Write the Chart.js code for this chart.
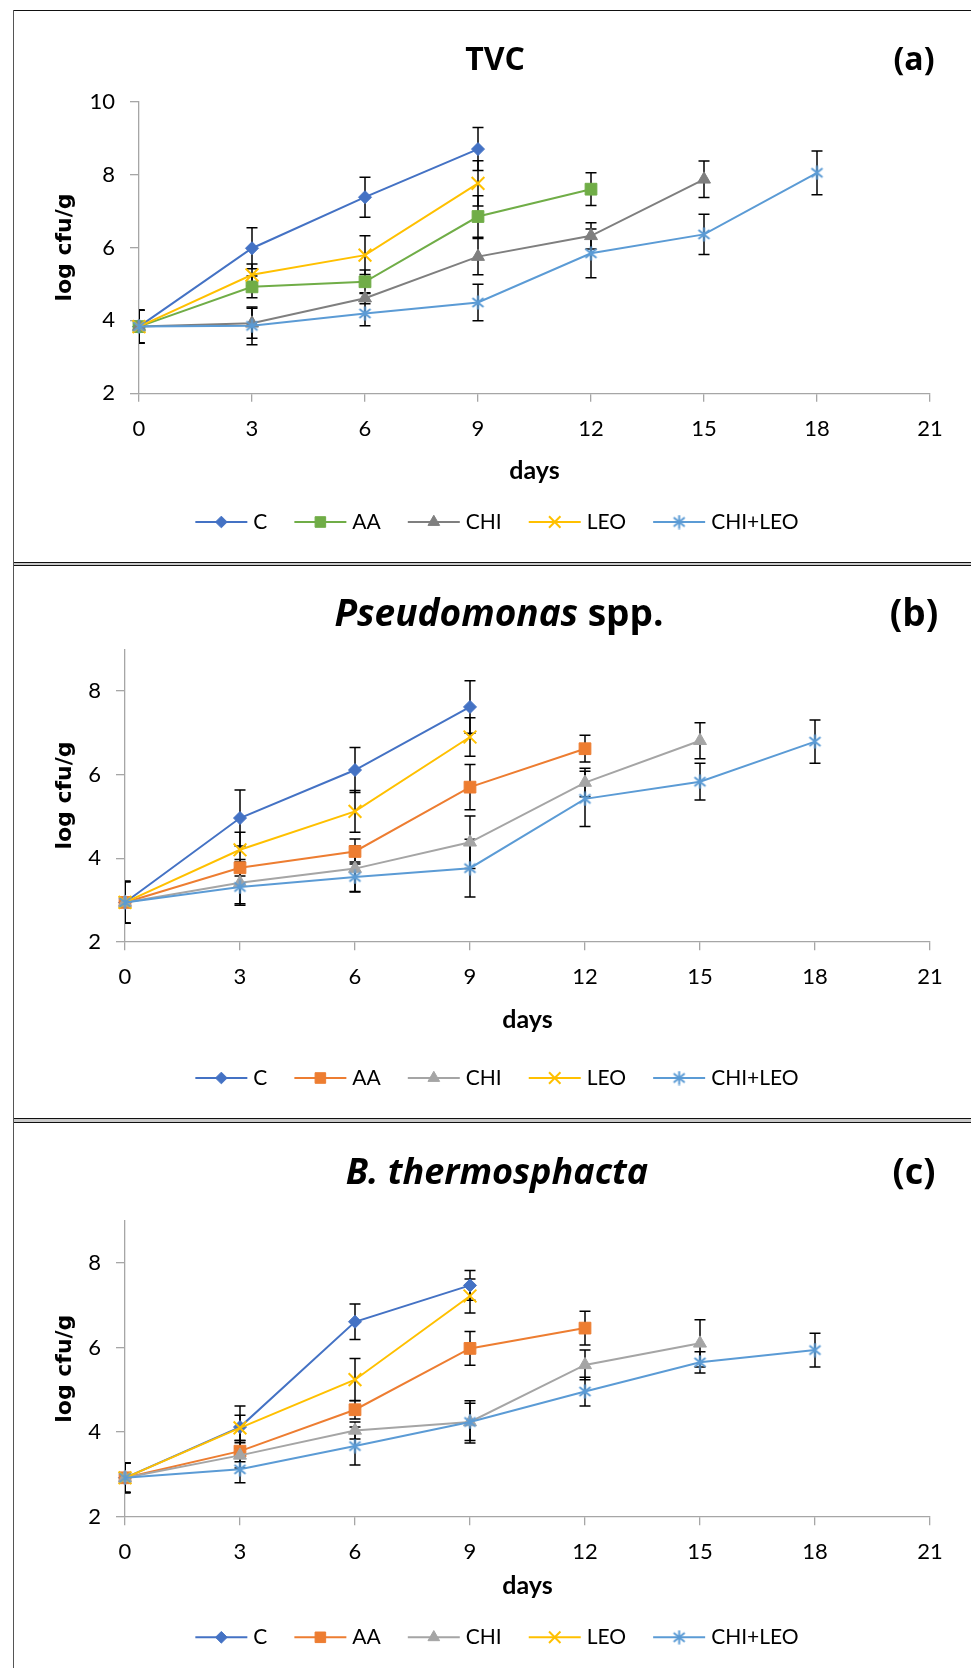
<!DOCTYPE html>
<html>
<head>
<meta charset="utf-8">
<title>TVC, Pseudomonas spp., B. thermosphacta</title>
<script src="https://cdn.jsdelivr.net/npm/chart.js@4.4.1/dist/chart.umd.min.js"></script>
<style>
  html, body { margin: 0; padding: 0; background: #fff; }
  body { position: relative; width: 971px; height: 1668px; overflow: hidden; }
  canvas { position: absolute; left: 15px; }
  .hl { position: absolute; left: 13px; width: 958px; height: 1px; background: #111; }
  .band { position: absolute; left: 13px; width: 958px; background: #c9c9c9; }
  .vl { position: absolute; left: 13px; top: 10px; bottom: 0; width: 1px; background: #555; }
</style>
</head>
<body>
<div class="hl" style="top:10px"></div>
<div class="hl" style="top:562px"></div>
<div class="band" style="top:563px;height:2px"></div>
<div class="hl" style="top:565px"></div>
<div class="hl" style="top:1118px"></div>
<div class="band" style="top:1119px;height:3px"></div>
<div class="hl" style="top:1122px"></div>
<div class="vl"></div>

<canvas id="chartA" width="956" height="548" style="top:12px"></canvas>
<canvas id="chartB" width="956" height="549" style="top:567px"></canvas>
<canvas id="chartC" width="956" height="544" style="top:1124px"></canvas>

<script>
// storage days (x) and series names
const days = [0, 3, 6, 9, 12, 15, 18];
const seriesNames = ['C', 'AA', 'CHI', 'LEO', 'CHI+LEO'];

// (a) TVC, log cfu/g
const tvcC      = [3.83, 5.98, 7.38, 8.70];
const tvcAA     = [3.83, 4.92, 5.06, 6.85, 7.60];
const tvcCHI    = [3.83, 3.92, 4.61, 5.75, 6.32, 7.87];
const tvcLEO    = [3.83, 5.25, 5.79, 7.76];
const tvcCHILEO = [3.83, 3.85, 4.19, 4.49, 5.84, 6.36, 8.05];
// standard deviations
const tvcErrC      = [0.45, 0.56, 0.55, 0.59];
const tvcErrAA     = [0.45, 0.30, 0.32, 0.57, 0.45];
const tvcErrCHI    = [0.45, 0.41, 0.15, 0.50, 0.36, 0.50];
const tvcErrLEO    = [0.45, 0.30, 0.53, 0.62];
const tvcErrCHILEO = [0.45, 0.52, 0.34, 0.50, 0.67, 0.55, 0.60];

// (b) Pseudomonas spp.
const psC      = [2.94, 4.96, 6.11, 7.62];
const psAA     = [2.94, 3.77, 4.16, 5.70, 6.62];
const psCHI    = [2.94, 3.41, 3.75, 4.38, 5.81, 6.81];
const psLEO    = [2.94, 4.20, 5.12, 6.90];
const psCHILEO = [2.94, 3.31, 3.55, 3.76, 5.42, 5.83, 6.79];
const psErrC      = [0.50, 0.67, 0.54, 0.63];
const psErrAA     = [0.50, 0.20, 0.30, 0.54, 0.32];
const psErrCHI    = [0.50, 0.50, 0.55, 0.63, 0.34, 0.43];
const psErrLEO    = [0.50, 0.42, 0.50, 0.46];
const psErrCHILEO = [0.50, 0.44, 0.36, 0.69, 0.66, 0.44, 0.52];

// (c) B. thermosphacta
const btC      = [2.92, 4.12, 6.61, 7.47];
const btAA     = [2.92, 3.55, 4.53, 5.98, 6.46];
const btCHI    = [2.92, 3.45, 4.04, 4.24, 5.59, 6.10];
const btLEO    = [2.92, 4.10, 5.24, 7.22];
const btCHILEO = [2.92, 3.12, 3.67, 4.24, 4.96, 5.65, 5.94];
const btErrC      = [0.35, 0.50, 0.42, 0.35];
const btErrAA     = [0.35, 0.25, 0.22, 0.40, 0.40];
const btErrCHI    = [0.35, 0.30, 0.20, 0.50, 0.35, 0.56];
const btErrLEO    = [0.35, 0.30, 0.50, 0.40];
const btErrCHILEO = [0.35, 0.32, 0.45, 0.44, 0.34, 0.25, 0.40];

const colorsA = ['#4472C4', '#70AD47', '#7F7F7F', '#FFC000', '#5B9BD5'];
const colorsBC = ['#4472C4', '#ED7D31', '#A5A5A5', '#FFC000', '#5B9BD5'];

// excel style asterisk marker (x plus vertical stroke)
function asteriskMarker(color) {
  const c = document.createElement('canvas');
  c.width = 15; c.height = 15;
  const g = c.getContext('2d');
  g.strokeStyle = color;
  g.lineWidth = 2;
  g.beginPath();
  g.moveTo(7.5, 0.5); g.lineTo(7.5, 14.5);
  g.moveTo(2, 3); g.lineTo(13, 12);
  g.moveTo(13, 3); g.lineTo(2, 12);
  g.stroke();
  return c;
}

function markerFor(i, color) {
  switch (i) {
    case 0: return { pointStyle: 'rectRot', pointRadius: 6.5, pointBorderWidth: 1 };
    case 1: return { pointStyle: 'rect', pointRadius: 8.3, pointBorderWidth: 1 };
    case 2: return { pointStyle: 'triangle', pointRadius: 7.5, pointBorderWidth: 1 };
    case 3: return { pointStyle: 'crossRot', pointRadius: 9, pointBorderWidth: 2 };
    default: return { pointStyle: asteriskMarker(color), pointRadius: 7, pointBorderWidth: 2 };
  }
}

// error bars drawn under the series
const errorBars = {
  id: 'errorBars',
  beforeDatasetsDraw(chart, args, opts) {
    const { ctx, chartArea, scales: { x, y } } = chart;
    ctx.save();
    ctx.beginPath();
    ctx.rect(chartArea.left, chartArea.top - 60, chartArea.width + 20, chartArea.height + 60);
    ctx.clip();
    ctx.strokeStyle = '#000';
    ctx.lineWidth = 1.5;
    const cap = 5.5;
    chart.data.datasets.forEach((ds, i) => {
      const errs = opts.errors[i];
      ds.data.forEach((pt, k) => {
        const px = x.getPixelForValue(pt.x);
        const top = y.getPixelForValue(pt.y + errs[k]);
        const bot = y.getPixelForValue(pt.y - errs[k]);
        ctx.beginPath();
        ctx.moveTo(px, top); ctx.lineTo(px, bot);
        ctx.moveTo(px - cap, top); ctx.lineTo(px + cap, top);
        ctx.moveTo(px - cap, bot); ctx.lineTo(px + cap, bot);
        ctx.stroke();
      });
    });
    ctx.restore();
  }
};

// panel title, panel letter and the excel-like legend
const panelDecor = {
  id: 'panelDecor',
  afterDraw(chart, args, opts) {
    const ctx = chart.ctx;
    ctx.save();
    ctx.fillStyle = '#000';
    ctx.textBaseline = 'alphabetic';
    ctx.textAlign = 'left';
    const fontFor = p => (p.italic ? 'italic ' : '') + 'bold ' + opts.titleSize + 'px "Open Sans"';
    let total = 0;
    opts.title.forEach(p => { ctx.font = fontFor(p); total += ctx.measureText(p.text).width; });
    let tx = opts.titleX - total / 2;
    opts.title.forEach(p => {
      ctx.font = fontFor(p);
      ctx.fillText(p.text, tx, opts.titleY);
      tx += ctx.measureText(p.text).width;
    });
    ctx.font = 'bold ' + opts.titleSize + 'px "Open Sans"';
    ctx.textAlign = 'center';
    ctx.fillText(opts.tag, opts.tagX, opts.titleY);

    // legend
    const lineLen = 52, gapText = 6, gapItem = 27;
    ctx.font = '21px Lato';
    const items = chart.data.datasets.map(ds => ({ ds, w: ctx.measureText(ds.label).width }));
    const totalW = items.reduce((s, it) => s + lineLen + gapText + it.w, 0) + gapItem * (items.length - 1);
    let lx = opts.legendX - totalW / 2;
    const ly = opts.legendY;
    items.forEach(({ ds, w }) => {
      ctx.strokeStyle = ds.borderColor;
      ctx.lineWidth = ds.borderWidth;
      ctx.beginPath();
      ctx.moveTo(lx, ly); ctx.lineTo(lx + lineLen, ly);
      ctx.stroke();
      ctx.fillStyle = ds.pointBackgroundColor;
      ctx.strokeStyle = ds.pointBorderColor;
      ctx.lineWidth = ds.pointBorderWidth;
      if (Chart.helpers && Chart.helpers.drawPoint) {
        Chart.helpers.drawPoint(ctx, { pointStyle: ds.pointStyle, radius: ds.pointRadius * 0.9, borderWidth: ds.pointBorderWidth, rotation: 0 }, lx + lineLen / 2, ly);
      }
      ctx.fillStyle = '#000';
      ctx.textAlign = 'left';
      ctx.textBaseline = 'middle';
      ctx.fillText(ds.label, lx + lineLen + gapText, ly);
      lx += lineLen + gapText + w + gapItem;
    });
    ctx.restore();
  }
};

function buildChart(canvasId, p) {
  const datasets = p.values.map((vals, i) => {
    const m = markerFor(i, p.colors[i]);
    return {
      label: seriesNames[i],
      data: vals.map((v, k) => ({ x: days[k], y: v })),
      borderColor: p.colors[i],
      backgroundColor: p.colors[i],
      pointBackgroundColor: p.colors[i],
      pointBorderColor: p.colors[i],
      borderWidth: 2,
      pointStyle: m.pointStyle,
      pointRadius: m.pointRadius,
      pointBorderWidth: m.pointBorderWidth,
      tension: 0,
      fill: false,
      clip: false,
      order: seriesNames.length - i
    };
  });

  const axisGrey = '#a6a6a6';
  return new Chart(document.getElementById(canvasId), {
    type: 'line',
    data: { datasets },
    options: {
      responsive: false,
      devicePixelRatio: 1,
      animation: false,
      events: [],
      layout: { padding: { top: p.areaTop, right: 41, bottom: p.padBottom, left: 0 } },
      scales: {
        x: {
          type: 'linear', min: 0, max: 21,
          ticks: { stepSize: 3, padding: 14, color: '#000', font: { family: 'Lato', size: 22 } },
          grid: { drawOnChartArea: false, drawTicks: true, tickLength: 8.5, color: axisGrey, lineWidth: 1.3 },
          border: { display: true, color: axisGrey, width: 1.3 },
          title: { display: true, text: 'days', color: '#000', font: { family: 'Lato', weight: 'bold', size: 25 }, padding: { top: 0, bottom: p.daysPad } },
          afterFit: s => { s.height = 100; }
        },
        y: {
          type: 'linear', min: 2, max: p.yMax,
          ticks: { stepSize: 2, padding: 15, color: '#000', font: { family: 'Lato', size: 22 } },
          afterBuildTicks: s => { s.ticks = s.ticks.filter(t => t.value % 2 === 0); },
          grid: { drawOnChartArea: false, drawTicks: true, tickLength: 9, color: axisGrey, lineWidth: 1.3 },
          border: { display: true, color: axisGrey, width: 1.3 },
          title: { display: true, text: 'log cfu/g', color: '#000', font: { family: 'DejaVu Sans', weight: 'bold', size: 22 }, padding: { top: 36.8, bottom: 0 } },
          afterFit: s => { s.width = p.axisLeft; }
        }
      },
      plugins: {
        legend: { display: false },
        tooltip: { enabled: false },
        errorBars: { errors: p.errors },
        panelDecor: {
          title: p.title, titleSize: p.titleSize, titleX: p.titleX, titleY: p.titleY,
          tag: p.tag, tagX: 899, legendX: 482, legendY: p.legendY
        }
      }
    },
    plugins: [errorBars, panelDecor]
  });
}

buildChart('chartA', {
  values: [tvcC, tvcAA, tvcCHI, tvcLEO, tvcCHILEO],
  errors: [tvcErrC, tvcErrAA, tvcErrCHI, tvcErrLEO, tvcErrCHILEO],
  colors: colorsA, yMax: 10, axisLeft: 124,
  areaTop: 89.7, padBottom: 548 - 381.3 - 100, daysPad: 7.3,
  title: [{ text: 'TVC', italic: false }], titleSize: 32, titleX: 480, tag: '(a)', titleY: 58, legendY: 510
});

buildChart('chartB', {
  values: [psC, psAA, psCHI, psLEO, psCHILEO],
  errors: [psErrC, psErrAA, psErrCHI, psErrLEO, psErrCHILEO],
  colors: colorsBC, yMax: 9, axisLeft: 110,
  areaTop: 82.3, padBottom: 549 - 374.7 - 100, daysPad: 7.1,
  title: [{ text: 'Pseudomonas', italic: true }, { text: ' spp.', italic: false }], titleSize: 37, titleX: 484, tag: '(b)', titleY: 58.7, legendY: 511
});

buildChart('chartC', {
  values: [btC, btAA, btCHI, btLEO, btCHILEO],
  errors: [btErrC, btErrAA, btErrCHI, btErrLEO, btErrCHILEO],
  colors: colorsBC, yMax: 9, axisLeft: 110,
  areaTop: 96.7, padBottom: 544 - 392.7 - 100, daysPad: 16.2,
  title: [{ text: 'B. thermosphacta', italic: true }], titleSize: 36, titleX: 482, tag: '(c)', titleY: 60, legendY: 513.3
});
</script>
</body>
</html>
